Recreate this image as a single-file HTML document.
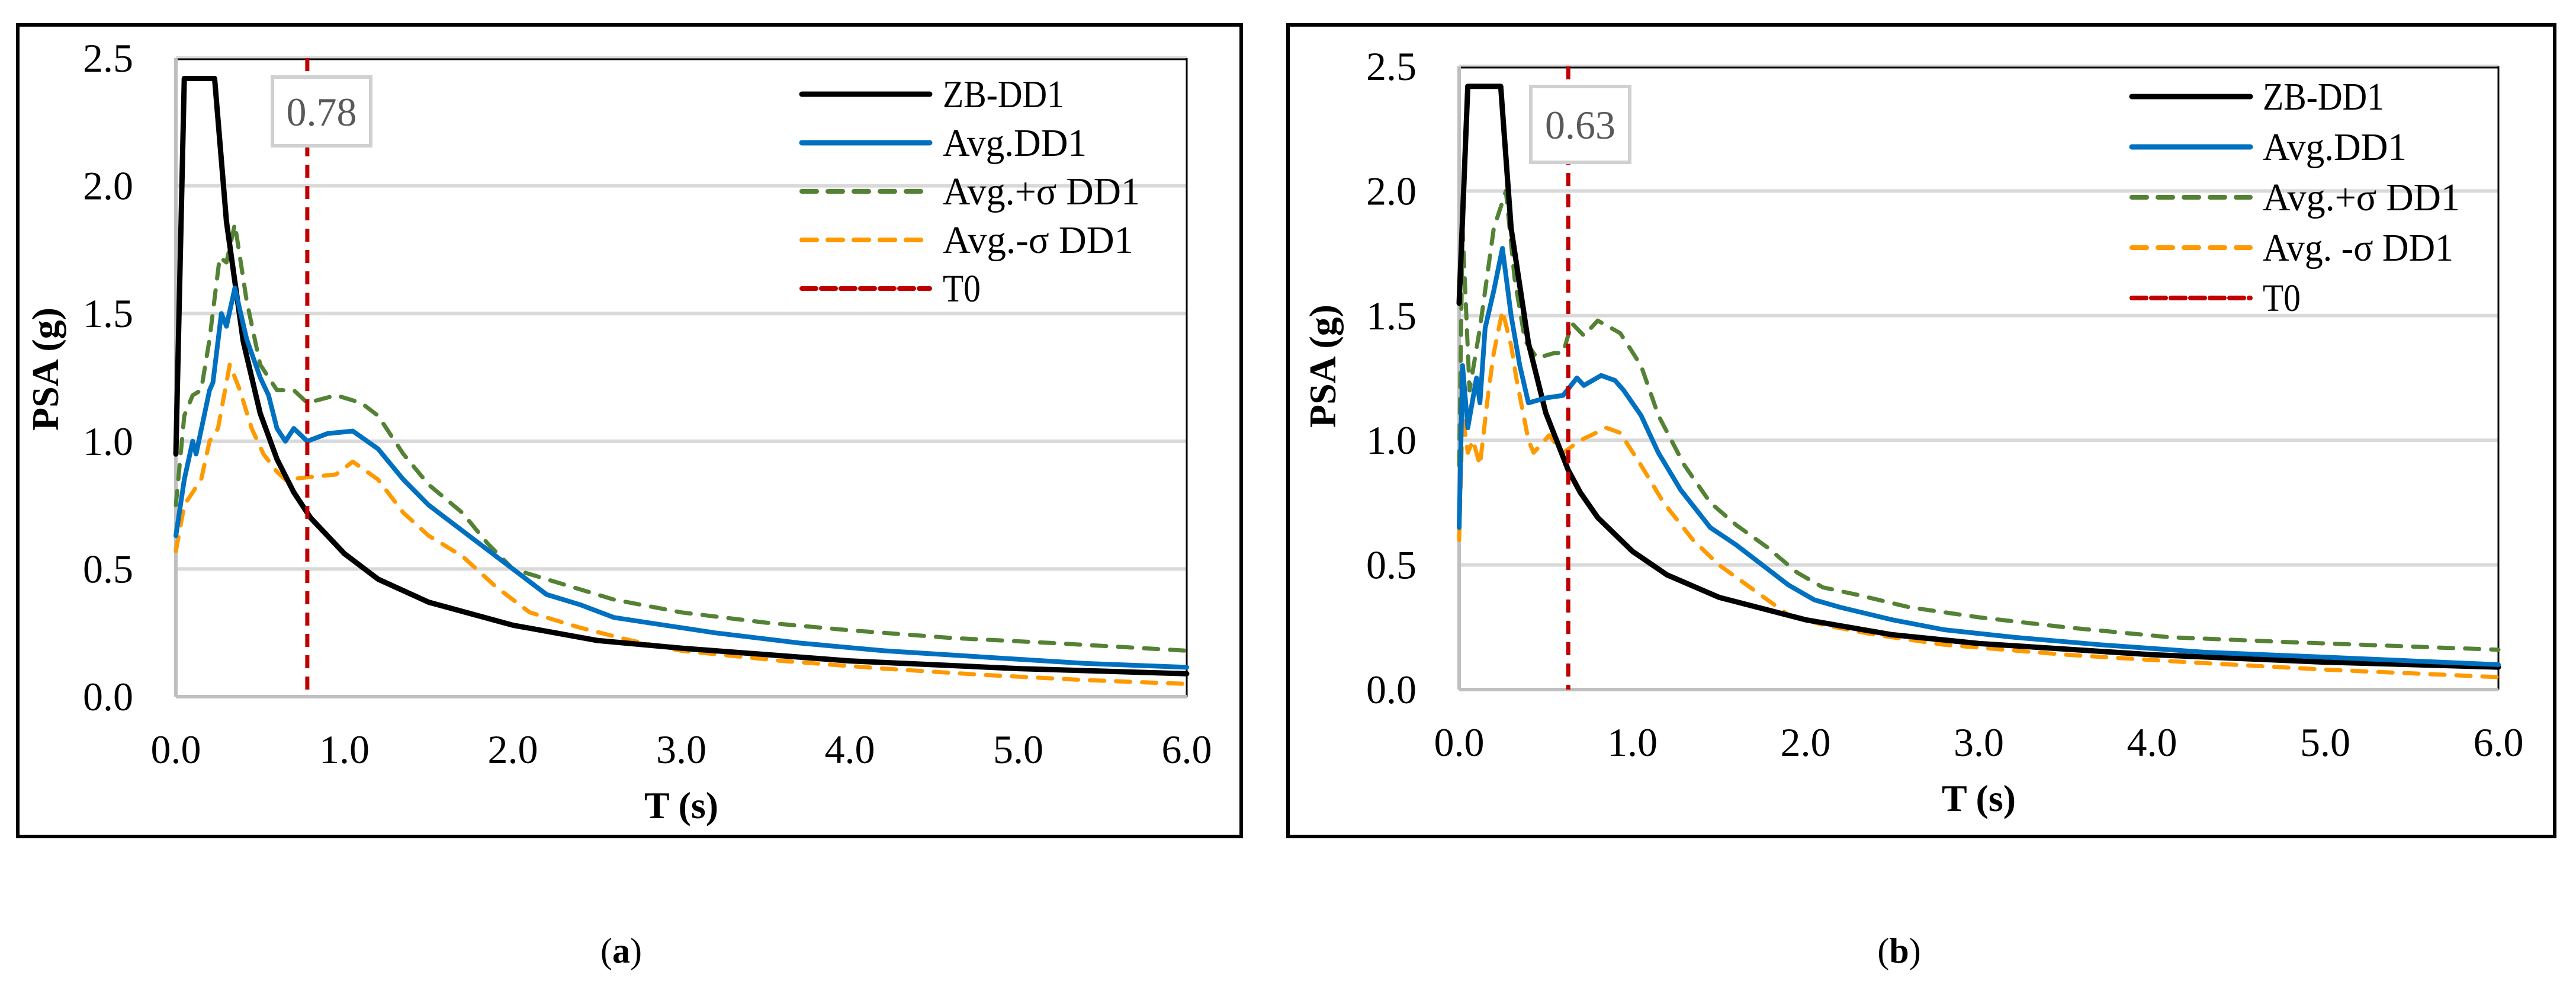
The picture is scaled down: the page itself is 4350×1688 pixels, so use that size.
<!DOCTYPE html>
<html><head><meta charset="utf-8">
<style>
html,body{margin:0;padding:0;background:#fff;}
svg{display:block;}
text{font-family:"Liberation Serif",serif;}
</style></head>
<body>
<svg id="fig" width="4350" height="1688" viewBox="0 0 4350 1688" xmlns="http://www.w3.org/2000/svg"></svg>
<script>
// ---- Chart (a) data ----
const aZbT = [0,0.05,0.23,0.3,0.4,0.5,0.6,0.7,0.8,1.0,1.2,1.5,2.0,2.5,3,4,5,6];
const aZbV = [0.95,2.42,2.42,1.86,1.39,1.11,0.93,0.80,0.70,0.56,0.46,0.37,0.28,0.22,0.19,0.14,0.11,0.09];
const aAvgT = [0,0.05,0.1,0.12,0.2,0.22,0.27,0.3,0.35,0.42,0.5,0.55,0.6,0.65,0.7,0.78,0.9,1.05,1.2,1.35,1.5,1.6,1.8,2.0,2.2,2.4,2.6,2.9,3.2,3.7,4.2,4.8,5.4,6];
const aAvgV = [0.63,0.85,1.0,0.95,1.2,1.23,1.5,1.45,1.6,1.4,1.25,1.18,1.05,1.0,1.05,1.0,1.03,1.04,0.97,0.85,0.75,0.7,0.6,0.5,0.4,0.36,0.31,0.28,0.25,0.21,0.18,0.155,0.13,0.115];
const aPlusT = [0,0.05,0.1,0.15,0.2,0.26,0.3,0.35,0.42,0.5,0.6,0.7,0.78,0.95,1.1,1.2,1.35,1.5,1.7,1.85,2.0,2.3,2.6,3.0,3.5,4,4.6,5.2,6];
const aPlusV = [0.75,1.1,1.18,1.2,1.4,1.72,1.7,1.85,1.55,1.3,1.2,1.2,1.15,1.18,1.15,1.1,0.95,0.83,0.72,0.6,0.5,0.44,0.38,0.33,0.29,0.26,0.23,0.21,0.18];
const aMinT = [0,0.05,0.1,0.15,0.2,0.25,0.32,0.38,0.45,0.52,0.6,0.65,0.8,0.95,1.05,1.2,1.35,1.5,1.7,1.9,2.1,2.4,2.7,3.0,3.6,4.2,4.8,5.4,6];
const aMinV = [0.57,0.75,0.8,0.85,1.0,1.05,1.3,1.2,1.05,0.95,0.88,0.85,0.86,0.87,0.92,0.85,0.72,0.63,0.55,0.43,0.33,0.27,0.22,0.18,0.14,0.11,0.085,0.065,0.05];
const aT0 = 0.78;
// ---- Chart (b) data ----
const bZbT = [0,0.05,0.24,0.3,0.4,0.5,0.63,0.7,0.8,1.0,1.2,1.5,2.0,2.5,3,4,5,6];
const bZbV = [1.55,2.42,2.42,1.85,1.39,1.11,0.88,0.79,0.69,0.555,0.46,0.37,0.28,0.22,0.185,0.14,0.11,0.09];
const bAvgT = [0,0.02,0.05,0.1,0.12,0.15,0.2,0.25,0.3,0.35,0.4,0.5,0.6,0.68,0.72,0.82,0.9,0.95,1.05,1.15,1.28,1.45,1.6,1.75,1.9,2.05,2.2,2.5,2.8,3.2,3.7,4.3,5.0,6];
const bAvgV = [0.65,1.3,1.05,1.25,1.15,1.45,1.6,1.77,1.5,1.3,1.15,1.17,1.18,1.25,1.22,1.26,1.24,1.2,1.1,0.95,0.8,0.65,0.58,0.5,0.42,0.36,0.33,0.28,0.24,0.21,0.18,0.15,0.13,0.1];
const bPlusT = [0,0.02,0.06,0.12,0.15,0.2,0.27,0.32,0.38,0.45,0.55,0.6,0.65,0.72,0.8,0.93,1.05,1.15,1.3,1.45,1.6,1.78,1.95,2.1,2.3,2.6,3.0,3.5,4.1,4.8,6];
const bPlusV = [0.9,1.85,1.2,1.45,1.6,1.85,2.0,1.65,1.4,1.33,1.35,1.35,1.47,1.42,1.48,1.43,1.3,1.1,0.9,0.75,0.66,0.57,0.47,0.41,0.38,0.33,0.29,0.25,0.21,0.19,0.16];
const bMinT = [0,0.02,0.05,0.08,0.12,0.17,0.2,0.25,0.3,0.33,0.4,0.43,0.52,0.6,0.7,0.85,0.93,1.05,1.18,1.35,1.5,1.7,1.9,2.1,2.4,2.8,3.5,4.2,5.0,6];
const bMinV = [0.6,1.1,0.95,1.0,0.9,1.2,1.35,1.52,1.38,1.25,1.0,0.95,1.02,0.95,1.0,1.05,1.03,0.9,0.75,0.6,0.5,0.4,0.3,0.26,0.22,0.18,0.14,0.11,0.08,0.05];
const bT0 = 0.63;
const yTicks = ["0.0","0.5","1.0","1.5","2.0","2.5"];
const xTicks = ["0.0","1.0","2.0","3.0","4.0","5.0","6.0"];
const aLegendLabels = ["ZB-DD1","Avg.DD1","Avg.+σ DD1","Avg.-σ DD1","T0"];
const bLegendLabels = ["ZB-DD1","Avg.DD1","Avg.+σ DD1","Avg. -σ DD1","T0"];
const legendWidths = [205,243,333,322,64];

const NS="http://www.w3.org/2000/svg";
const svg=document.getElementById('fig');
function mk(tag,attrs,parent){const e=document.createElementNS(NS,tag);for(const k in attrs)e.setAttribute(k,attrs[k]);(parent||svg).appendChild(e);return e;}

function chart(cfg){
  const g=mk('g',{});
  
  
  const X=t=>cfg.x0+(cfg.x1-cfg.x0)*t/6;
  const Y=v=>cfg.y0-(cfg.y0-cfg.y1)*v/2.5;
  const fr=mk('rect',{x:cfg.fx0,y:cfg.fy0,width:cfg.fx1-cfg.fx0,height:cfg.fy1-cfg.fy0,fill:'none',stroke:'#000','stroke-width':6},g);
  
  
  for(let i=1;i<yTicks.length;i++){
    const v=parseFloat(yTicks[i]);
    const gl=mk('line',{x1:cfg.x0,x2:cfg.x1,y1:Y(v),y2:Y(v),stroke:'#d9d9d9','stroke-width':6},g);
    
    
  }
  mk('line',{x1:cfg.x0,x2:cfg.x1,y1:Y(2.5)+2,y2:Y(2.5)+2,stroke:'#000','stroke-width':3},g);
  mk('line',{x1:cfg.x1,x2:cfg.x1,y1:Y(2.5),y2:Y(0),stroke:'#000','stroke-width':3},g);
  const ya=mk('line',{x1:cfg.x0,x2:cfg.x0,y1:Y(2.5),y2:Y(0),stroke:'#bfbfbf','stroke-width':6},g);
  
  
  const xa=mk('line',{x1:cfg.x0,x2:cfg.x1,y1:Y(0),y2:Y(0),stroke:'#bfbfbf','stroke-width':6},g);
  
  
  yTicks.forEach(s=>{
    const t=mk('text',{x:cfg.x0-72,y:Y(parseFloat(s))+23,'font-size':68,'text-anchor':'end'},g);
    t.textContent=s;
    
    
  });
  xTicks.forEach(s=>{
    const t=mk('text',{x:X(parseFloat(s)),y:Y(0)+112,'font-size':68,'text-anchor':'middle'},g);
    t.textContent=s;
    
    
  });
  const yt=mk('text',{x:cfg.ytx,y:cfg.yty,'font-size':64,'font-weight':'bold','text-anchor':'middle',transform:`rotate(-90 ${cfg.ytx} ${cfg.yty})`},g);
  yt.textContent='PSA (g)';
  
  
  const xt=mk('text',{x:(cfg.x0+cfg.x1)/2,y:Y(0)+205,'font-size':64,'font-weight':'bold','text-anchor':'middle'},g);
  xt.textContent='T (s)';
  
  
  const series=[
    [cfg.minT,cfg.minV,'#ff9900',7,'24 20','series-avg-minus-sigma'],
    [cfg.plusT,cfg.plusV,'#548235',7,'24 20','series-avg-plus-sigma'],
    [cfg.zbT,cfg.zbV,'#000000',9,'','series-zb-dd1'],
    [cfg.avgT,cfg.avgV,'#0070c0',8,'','series-avg-dd1']
  ];
  series.forEach(s=>{
    const d=s[0].map((t,i)=>(i?'L':'M')+X(t).toFixed(1)+' '+Y(s[1][i]).toFixed(1)).join(' ');
    const p=mk('path',{d:d,fill:'none',stroke:s[2],'stroke-width':s[3],'stroke-linejoin':'round','stroke-linecap':'round'},g);
    if(s[4])p.setAttribute('stroke-dasharray',s[4]);
    
    
  });
  const t0=mk('line',{x1:X(cfg.t0),x2:X(cfg.t0),y1:Y(2.5),y2:Y(0),stroke:'#c00000','stroke-width':7,'stroke-dasharray':'22 14'},g);
  
  
  const bx=mk('rect',{x:cfg.bx0,y:cfg.by0,width:cfg.bx1-cfg.bx0,height:cfg.by1-cfg.by0,fill:'#fff',stroke:'#d0d0d0','stroke-width':6},g);
  
  
  const bt=mk('text',{x:(cfg.bx0+cfg.bx1)/2,y:(cfg.by0+cfg.by1)/2+24,'font-size':68,fill:'#595959','text-anchor':'middle'},g);
  bt.textContent=cfg.t0.toFixed(2);
  
  
  const styles=[['#000',9,''],['#0070c0',9,''],['#548235',8,'25 19'],['#ff9900',8,'25 19'],['#c00000',8,'24 9']];
  cfg.labels.forEach((lab,i)=>{
    const ly=cfg.ly+i*cfg.ldy;
    const l=mk('line',{x1:cfg.lx,x2:cfg.lx2,y1:ly,y2:ly,stroke:styles[i][0],'stroke-width':styles[i][1],'stroke-linecap':'round'},g);
    if(styles[i][2])l.setAttribute('stroke-dasharray',styles[i][2]);
    
    
    const t=mk('text',{x:cfg.ltx,y:ly+22,'font-size':66,textLength:legendWidths[i],lengthAdjust:'spacingAndGlyphs'},g);
    t.textContent=lab;
    
    
  });
  const cap=mk('text',{x:cfg.capx,y:1625,'font-size':60,'text-anchor':'middle'},g);
  cap.innerHTML='(<tspan font-weight="bold">'+cfg.cap+'</tspan>)';
  
  
}

chart({name:'chart-a',fx0:30,fy0:42,fx1:2096,fy1:1412,x0:297,x1:2004,y0:1176,y1:98,
  zbT:aZbT,zbV:aZbV,avgT:aAvgT,avgV:aAvgV,plusT:aPlusT,plusV:aPlusV,minT:aMinT,minV:aMinV,t0:aT0,labels:aLegendLabels,
  bx0:460,by0:130,bx1:626,by1:246,lx:1354,lx2:1570,ltx:1592,ly:159,ldy:82,ytx:98,yty:623,capx:1049,cap:'a'});
chart({name:'chart-b',fx0:2175,fy0:42,fx1:4314,fy1:1412,x0:2464,x1:4219,y0:1164,y1:112,
  zbT:bZbT,zbV:bZbV,avgT:bAvgT,avgV:bAvgV,plusT:bPlusT,plusV:bPlusV,minT:bMinT,minV:bMinV,t0:bT0,labels:bLegendLabels,
  bx0:2585,by0:146,bx1:2752,by1:274,lx:3600,lx2:3800,ltx:3821,ly:163,ldy:85,ytx:2255,yty:618,capx:3207,cap:'b'});
</script>
</body></html>
